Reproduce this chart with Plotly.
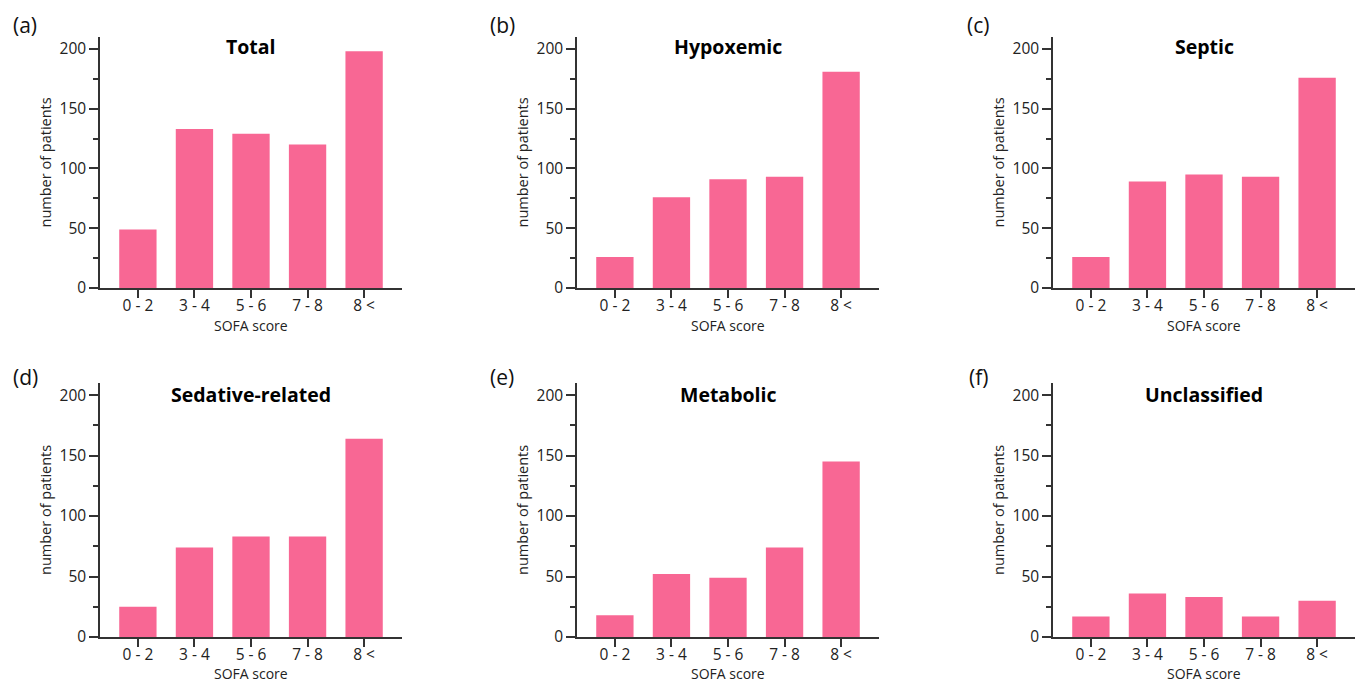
import plotly.graph_objects as go

categories = ["0 - 2", "3 - 4", "5 - 6", "7 - 8", "8 <"]
total = [49, 133, 129, 120, 198]
hypoxemic = [26, 76, 91, 93, 181]
septic = [26, 89, 95, 93, 176]
sedative = [25, 74, 83, 83, 164]
metabolic = [18, 52, 49, 74, 145]
unclassified = [17, 36, 33, 17, 30]

panel_titles = ["Total", "Hypoxemic", "Septic", "Sedative-related", "Metabolic", "Unclassified"]
panel_labels = ["(a)", "(b)", "(c)", "(d)", "(e)", "(f)"]
series = [total, hypoxemic, septic, sedative, metabolic, unclassified]
y_ticks = [0, 50, 100, 150, 200]

W, H = 1357, 682
FIG_H = 692  # rendered page height (the photograph compresses it to 682 rows)
BAR = "#F86794"
AX = "#333333"
FONT = "Open Sans"

# pixel layout of the panels in reference-picture coordinates
cols = [(100, 402), (577, 879), (1053, 1355)]
rows = [(37, 288), (383, 637)]
label_y = [25, 377]
title_y = [47, 394]
xtitle_y = [325, 673]

def px_x(x):
    return x / W

def px_y(y):
    return 1 - y / H

fig = go.Figure()
annotations = []
for i, (vals, title, lab) in enumerate(zip(series, panel_titles, panel_labels)):
    r, c = divmod(i, 3)
    x0, x1 = cols[c]
    y0, y1 = rows[r]
    n = i + 1
    xa = "x" if n == 1 else f"x{n}"
    ya = "y" if n == 1 else f"y{n}"
    fig.add_trace(go.Bar(x=list(range(len(categories))), y=vals, marker_color=BAR,
                         marker_line_width=0, width=0.66, xaxis=xa, yaxis=ya,
                         showlegend=False))
    xkey = "xaxis" if n == 1 else f"xaxis{n}"
    ykey = "yaxis" if n == 1 else f"yaxis{n}"
    fig.layout[xkey] = dict(domain=[px_x(x0), px_x(x1)], range=[-0.67, 4.67],
                            anchor=ya, tickmode="array", tickvals=list(range(len(categories))),
                            ticktext=categories, ticks="outside", ticklen=8, tickwidth=1.5,
                            tickcolor=AX, showline=True, linecolor=AX, linewidth=1.5,
                            showgrid=False, zeroline=False, fixedrange=True,
                            ticklabelstandoff=-5,
                            tickfont=dict(family=FONT, size=15.5, color="#222"))
    fig.layout[ykey] = dict(domain=[px_y(y1), px_y(y0)], range=[0, 210], anchor=xa,
                            tickmode="array", tickvals=y_ticks, ticks="outside", ticklen=9,
                            tickwidth=1.5, tickcolor=AX, showline=True, linecolor=AX,
                            linewidth=1.5, showgrid=False, zeroline=False,
                            minor=dict(ticks="outside", ticklen=5, tickwidth=1.5,
                                       tickcolor=AX, tickvals=[25, 75, 125, 175], showgrid=False),
                            tickfont=dict(family=FONT, size=15.5, color="#222"))
    cx = (x0 + x1) / 2
    annotations.append(dict(text=f"<b>{title}</b>", x=px_x(cx), y=px_y(title_y[r]), xref="paper",
                            yref="paper", showarrow=False, xanchor="center", yanchor="middle",
                            font=dict(family=FONT, size=19.5, color="#000")))
    annotations.append(dict(text=lab, x=px_x(x0 - 75), y=px_y(label_y[r]), xref="paper",
                            yref="paper", showarrow=False, xanchor="center", yanchor="middle",
                            font=dict(family=FONT, size=21, color="#111")))
    annotations.append(dict(text="number of patients", x=px_x(x0 - 55), y=px_y((y0 + y1) / 2),
                            xref="paper", yref="paper", showarrow=False, textangle=-90,
                            xanchor="center", yanchor="middle",
                            font=dict(family=FONT, size=14.5, color="#222")))
    annotations.append(dict(text="SOFA score", x=px_x(cx), y=px_y(xtitle_y[r]), xref="paper",
                            yref="paper", showarrow=False, xanchor="center", yanchor="middle",
                            font=dict(family=FONT, size=14, color="#222")))

fig.update_layout(width=W, height=FIG_H, autosize=False, margin=dict(l=0, r=0, t=0, b=0),
                  paper_bgcolor="white", plot_bgcolor="white",
                  annotations=annotations, font=dict(family=FONT))
post = ("document.documentElement.style.margin='0px';"
        "document.body.style.margin='0px';")
fig.write_html("out.html", config={"displayModeBar": False, "responsive": False},
               post_script=post)
